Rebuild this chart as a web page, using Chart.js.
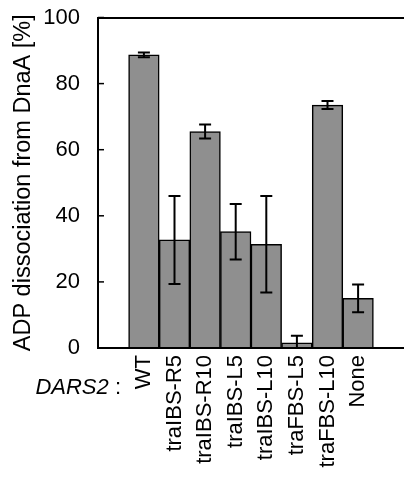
<!DOCTYPE html>
<html>
<head>
<meta charset="utf-8">
<script src="https://cdn.jsdelivr.net/npm/chart.js@4/dist/chart.umd.min.js"></script>
<style>
  html, body { margin: 0; padding: 0; background: #ffffff; }
  #wrap { width: 404px; height: 477px; }
</style>
</head>
<body>
<div id="wrap"><canvas id="c" width="404" height="477"></canvas></div>
<script>
const categories = ['WT', 'traIBS-R5', 'traIBS-R10', 'traIBS-L5', 'traIBS-L10', 'traFBS-L5', 'traFBS-L10', 'None'];
const values = [88.7, 32.7, 65.5, 35.2, 31.4, 1.6, 73.5, 15.0];
const errors = [0.7, 13.3, 2.1, 8.4, 14.6, 2.1, 1.2, 4.2];
const yTicks = [0, 20, 40, 60, 80, 100];
const groupLabel = 'DARS2';

const FONT = "'Liberation Sans', Arial, Helvetica, sans-serif";

// pad one empty slot at each end of the category axis
const labels = [''].concat(categories, ['']);
const barData = [null].concat(values, [null]);
const errData = [null].concat(errors, [null]);

const extrasPlugin = {
  id: 'extras',
  afterDatasetsDraw(chart) {
    const ctx = chart.ctx;
    const meta = chart.getDatasetMeta(0);
    const y = chart.scales.y;
    const area = chart.chartArea;
    ctx.save();
    ctx.beginPath();
    ctx.rect(area.left, area.top - 5, area.right - area.left, area.bottom - area.top + 5);
    ctx.clip();
    ctx.strokeStyle = '#000';
    ctx.lineWidth = 2;
    meta.data.forEach((bar, i) => {
      const v = barData[i];
      const e = errData[i];
      if (v === null || e === null) return;
      const x = bar.x;
      const yHi = y.getPixelForValue(v + e);
      const yLo = y.getPixelForValue(v - e);
      const cap = 6;
      ctx.beginPath();
      ctx.moveTo(x, yHi); ctx.lineTo(x, yLo);
      ctx.moveTo(x - cap, yHi); ctx.lineTo(x + cap, yHi);
      ctx.moveTo(x - cap, yLo); ctx.lineTo(x + cap, yLo);
      ctx.stroke();
    });
    ctx.restore();

    // inward tick marks on the y axis
    ctx.save();
    ctx.strokeStyle = '#000';
    ctx.lineWidth = 1.5;
    yTicks.forEach(t => {
      const py = y.getPixelForValue(t);
      ctx.beginPath();
      ctx.moveTo(area.left, py);
      ctx.lineTo(area.left + 6, py);
      ctx.stroke();
    });
    ctx.restore();
  },
  afterDraw(chart) {
    const ctx = chart.ctx;
    ctx.save();
    ctx.fillStyle = '#000';
    ctx.textBaseline = 'alphabetic';
    const baseY = 394;
    const rightX = 121;
    ctx.font = '22px ' + FONT;
    const colon = ':';
    const cw = ctx.measureText(colon).width;
    const sw = ctx.measureText(' ').width;
    ctx.textAlign = 'left';
    ctx.fillText(colon, rightX - cw, baseY);
    ctx.font = 'italic 22px ' + FONT;
    ctx.textAlign = 'right';
    ctx.fillText(groupLabel, rightX - cw - sw, baseY);
    ctx.restore();
  }
};

new Chart(document.getElementById('c'), {
  type: 'bar',
  data: {
    labels: labels,
    datasets: [{
      data: barData,
      backgroundColor: '#8f8f8f',
      borderColor: '#000000',
      borderWidth: 1.5,
      barPercentage: 1,
      categoryPercentage: 1
    }]
  },
  options: {
    responsive: false,
    animation: false,
    devicePixelRatio: 1,
    layout: { padding: { top: 17.5, right: 0, bottom: 0, left: 0 } },
    plugins: {
      legend: { display: false },
      tooltip: { enabled: false }
    },
    scales: {
      x: {
        type: 'category',
        offset: true,
        grid: { display: false, drawTicks: false },
        border: { display: true, color: '#000', width: 2 },
        ticks: {
          autoSkip: false,
          minRotation: 90,
          maxRotation: 90,
          padding: 7,
          color: '#000',
          font: { family: FONT, size: 22 }
        },
        afterFit(scale) {
          scale.height = 129;
          scale.paddingLeft = 0;
          scale.paddingRight = 0;
        }
      },
      y: {
        min: 0,
        max: 100,
        afterBuildTicks(scale) { scale.ticks = yTicks.map(v => ({ value: v })); },
        grid: {
          drawTicks: false,
          lineWidth: 2,
          color: ctx => (ctx.tick && ctx.tick.value === 100) ? '#000' : 'rgba(0,0,0,0)'
        },
        border: { display: true, color: '#000', width: 2 },
        ticks: {
          padding: 18,
          color: '#000',
          font: { family: FONT, size: 22 }
        },
        title: {
          display: true,
          text: 'ADP dissociation from DnaA [%]',
          color: '#000',
          font: { family: FONT, size: 23.5 },
          padding: { top: 9, bottom: 0 }
        },
        afterFit(scale) {
          scale.width = 98;
          scale.paddingTop = 0;
          scale.paddingBottom = 0;
        }
      }
    }
  },
  plugins: [extrasPlugin]
});
</script>
</body>
</html>
